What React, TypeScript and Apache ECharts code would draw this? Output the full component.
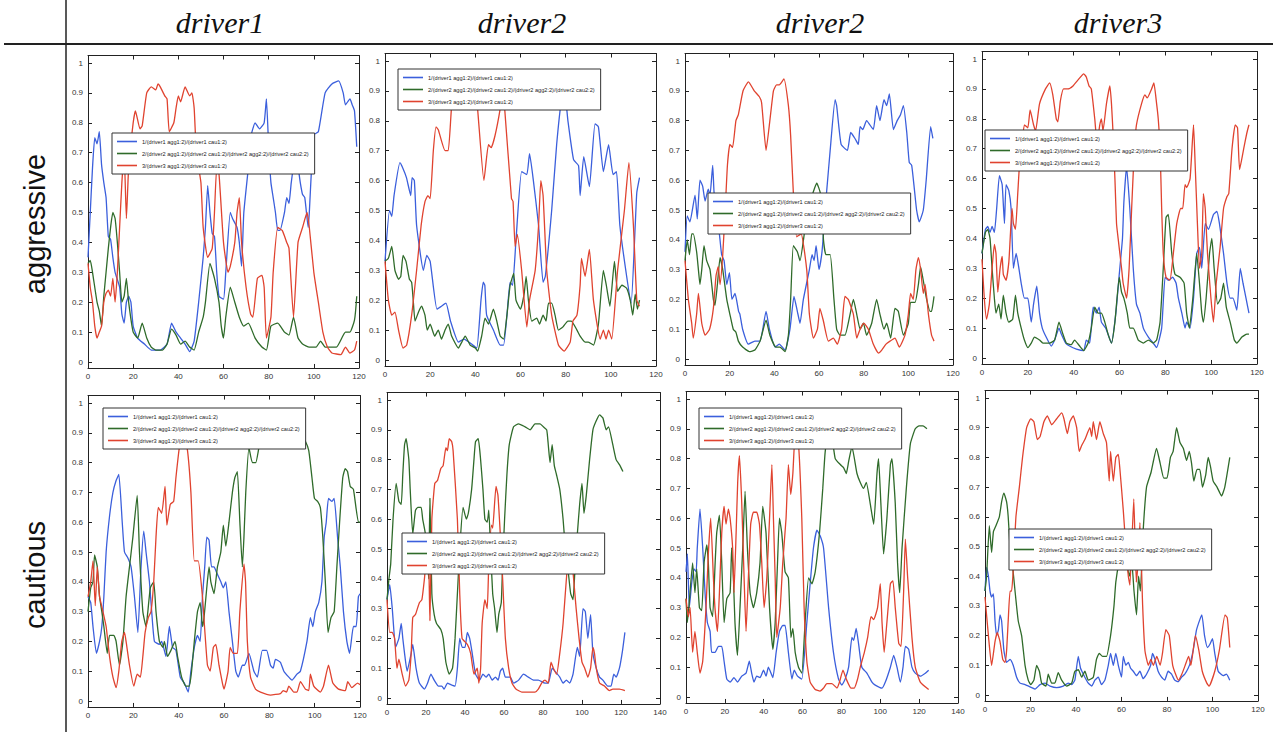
import React, { useEffect, useRef } from "react";
import * as echarts from "echarts";

// ---------- texts ----------
const NAMES = [
  "1/(driver1 agg1:2)/(driver1 cau1:2)",
  "2/(driver2 agg1:2)/(driver2 cau1:2)/(driver2 agg2:2)/(driver2 cau2:2)",
  "3/(driver3 agg1:2)/(driver3 cau1:2)",
];
const COLUMN_TITLES = ["driver1", "driver2", "driver2", "driver3"];
const ROW_TITLES = ["aggressive", "cautious"];
const Y_TICKS = [0, 0.1, 0.2, 0.3, 0.4, 0.5, 0.6, 0.7, 0.8, 0.9, 1];
const X_MAX = [120, 120, 120, 120, 120, 140, 140, 120];

// ---------- data: [x, y] ----------
// Row 1 (aggressive), panel 1: driver1
const p1Blue = [[0,0.35],[1,0.5],[2,0.65],[3,0.75],[4,0.73],[5,0.77],[6,0.66],[7,0.6],[8,0.55],[9,0.42],[10,0.41],[11,0.35],[12,0.3],[14,0.25],[15,0.16],[16,0.13],[17,0.2],[18,0.22],[19,0.2],[20,0.12],[22,0.08],[25,0.06],[28,0.04],[32,0.04],[35,0.06],[37,0.13],[39,0.1],[41,0.08],[43,0.06],[45,0.035],[47,0.07],[49,0.2],[51,0.35],[52,0.45],[53,0.59],[54,0.5],[55,0.43],[56,0.42],[57,0.3],[58,0.22],[60,0.21],[61,0.3],[63,0.5],[64,0.48],[66,0.45],[67,0.4],[68,0.32],[69,0.5],[71,0.65],[72,0.75],[74,0.8],[76,0.78],[78,0.8],[79,0.88],[80,0.72],[81,0.6],[82,0.55],[83,0.5],[84,0.44],[85,0.44],[87,0.5],[88,0.55],[89,0.53],[90,0.6],[92,0.7],[94,0.6],[95,0.56],[96,0.55],[97.5,0.45],[98,0.5],[99,0.65],[100,0.76],[102,0.77],[105,0.9],[108,0.93],[111,0.94],[113,0.9],[114,0.86],[116,0.88],[117,0.86],[118,0.84],[119,0.72]];
const p1Green = [[0,0.33],[1,0.34],[2,0.3],[4,0.2],[5,0.17],[6,0.12],[7,0.22],[8,0.3],[9,0.38],[10,0.45],[11,0.5],[12,0.48],[13,0.4],[14,0.3],[15,0.2],[16,0.22],[17,0.28],[18,0.2],[20,0.1],[22,0.08],[24,0.13],[26,0.08],[28,0.05],[30,0.04],[33,0.04],[35,0.06],[37,0.11],[39,0.09],[41,0.06],[43,0.07],[45,0.05],[47,0.04],[49,0.1],[51,0.15],[52,0.2],[54,0.33],[56,0.28],[58,0.2],[59,0.12],[60,0.08],[61,0.15],[63,0.25],[65,0.2],[67,0.15],[69,0.12],[71,0.13],[74,0.08],[77,0.05],[79,0.04],[81,0.12],[84,0.13],[87,0.1],[89,0.09],[91,0.15],[93,0.08],[95,0.06],[98,0.05],[101,0.05],[103,0.07],[105,0.05],[110,0.05],[114,0.1],[116,0.1],[118,0.14],[119,0.22]];
const p1Red = [[0,0.33],[1,0.25],[2,0.2],[3,0.12],[4,0.08],[5,0.1],[6,0.12],[7,0.2],[8,0.23],[9,0.24],[10,0.22],[11,0.28],[12,0.2],[13,0.3],[14,0.45],[15,0.6],[16,0.7],[17,0.48],[18,0.65],[20,0.8],[21,0.84],[23,0.78],[24,0.79],[26,0.9],[28,0.92],[30,0.91],[31,0.93],[32,0.92],[34,0.89],[35,0.88],[36,0.77],[38,0.8],[39,0.85],[40,0.89],[41,0.87],[43,0.92],[45,0.89],[46,0.9],[47,0.85],[48,0.7],[50,0.6],[51,0.45],[53,0.35],[55,0.38],[56,0.5],[57,0.65],[58,0.63],[60,0.4],[62,0.3],[63,0.32],[65,0.4],[66,0.5],[67,0.55],[68,0.4],[70,0.25],[72,0.16],[73,0.15],[75,0.28],[77,0.29],[78,0.25],[79,0.08],[81,0.15],[82,0.3],[84,0.45],[86,0.44],[88,0.4],[89,0.38],[91,0.15],[93,0.4],[95,0.45],[97,0.5],[98,0.45],[100,0.3],[102,0.2],[104,0.1],[106,0.05],[108,0.03],[112,0.025],[114,0.05],[116,0.03],[118,0.04],[119,0.07]];

// Row 1, panel 2: driver2
const p2Blue = [[0,0.33],[2,0.5],[3,0.48],[4,0.55],[6.6,0.66],[8,0.64],[9.5,0.61],[11.4,0.55],[12,0.61],[13,0.6],[14,0.45],[17,0.3],[18.5,0.35],[20,0.33],[23,0.17],[25,0.18],[27,0.19],[29,0.13],[32.5,0.06],[35,0.07],[38,0.055],[40.6,0.04],[42.5,0.2],[43.5,0.26],[44.2,0.25],[45,0.15],[48,0.1],[51,0.05],[52.5,0.05],[54,0.15],[55.4,0.26],[56.5,0.25],[58,0.4],[60.5,0.63],[62.8,0.62],[64,0.69],[65.7,0.6],[68,0.45],[70,0.26],[71,0.28],[73.8,0.5],[76,0.72],[78.3,0.88],[79.5,0.9],[81,0.8],[83.5,0.67],[85.7,0.65],[86.4,0.55],[88,0.68],[90.5,0.58],[93,0.79],[94.5,0.78],[96.7,0.63],[99,0.72],[101,0.62],[102.5,0.63],[104,0.45],[107,0.28],[109,0.19],[110.8,0.45],[111.5,0.56],[112.7,0.61]];
const p2Green = [[0,0.33],[1.5,0.34],[3,0.38],[4.4,0.3],[6,0.27],[7,0.28],[8,0.35],[9.3,0.33],[10.8,0.27],[11.8,0.26],[12.5,0.2],[13.3,0.13],[14.8,0.16],[16.2,0.18],[17.7,0.15],[18.7,0.1],[20,0.12],[22,0.08],[23.6,0.1],[25,0.07],[26.6,0.1],[28,0.12],[29.5,0.08],[32.5,0.04],[34,0.06],[35.5,0.08],[37.7,0.05],[40,0.04],[41,0.03],[42.8,0.08],[44.3,0.14],[45.8,0.12],[48,0.17],[49.5,0.13],[51,0.08],[52.5,0.07],[54,0.15],[55.4,0.25],[57,0.29],[58,0.2],[60,0.17],[61.6,0.22],[62.5,0.28],[63.5,0.2],[65,0.13],[67.2,0.14],[68.4,0.12],[70,0.15],[71.3,0.13],[72.4,0.19],[73.8,0.19],[75.3,0.15],[76.8,0.1],[78.7,0.11],[81,0.13],[82.5,0.13],[85,0.1],[86.4,0.08],[88.6,0.06],[90,0.06],[92.3,0.05],[94.5,0.12],[96.7,0.3],[98,0.25],[99.6,0.18],[101.6,0.33],[103,0.23],[104.9,0.25],[107,0.24],[108.6,0.2],[109.7,0.15],[110.8,0.22],[111.8,0.17],[112.7,0.2]];
const p2Red = [[0,0.33],[1.5,0.2],[3,0.15],[4.4,0.16],[6,0.1],[8,0.04],[9.6,0.05],[11.8,0.15],[14,0.3],[16,0.45],[17.7,0.53],[19,0.55],[20,0.54],[21.4,0.7],[22.6,0.78],[23.6,0.77],[26.6,0.7],[28,0.7],[29.5,0.85],[31,0.92],[34,0.94],[37,0.93],[40,0.9],[41,0.84],[43.8,0.6],[45.8,0.72],[47,0.71],[48.7,0.75],[51,0.84],[52,0.9],[53,0.84],[56,0.54],[56.7,0.53],[57.6,0.38],[58.6,0.42],[60.5,0.3],[62.8,0.11],[64,0.2],[66.5,0.3],[68,0.45],[69,0.6],[70,0.55],[71.6,0.3],[73.8,0.15],[76.8,0.05],[79.3,0.03],[82,0.06],[83.2,0.13],[85,0.15],[86.4,0.25],[87,0.34],[88.6,0.28],[90.5,0.37],[92.3,0.2],[95.3,0.07],[96.7,0.1],[97.9,0.07],[99,0.1],[100.4,0.07],[103,0.3],[106,0.5],[108,0.66],[110,0.45],[111.5,0.2],[112.7,0.18]];

// Row 1, panel 3: driver2
const p3Blue = [[0,0.36],[1,0.48],[2.2,0.46],[4.5,0.55],[5.5,0.47],[6.7,0.6],[7.9,0.58],[9,0.53],[10.4,0.57],[11.2,0.55],[12.4,0.65],[13,0.56],[14,0.5],[15.4,0.42],[16.4,0.35],[17.5,0.33],[18.7,0.25],[19.9,0.29],[21,0.2],[22.4,0.22],[24,0.16],[24.6,0.15],[25.8,0.1],[28.4,0.05],[31.3,0.06],[33.6,0.06],[36.3,0.16],[37.8,0.1],[40.3,0.04],[42.2,0.05],[44.8,0.03],[47,0.1],[48.8,0.21],[50.3,0.16],[51.5,0.12],[53,0.2],[55.7,0.3],[56.9,0.35],[57.8,0.33],[58.7,0.38],[60,0.3],[61.2,0.35],[62,0.42],[62.7,0.5],[63.4,0.56],[65,0.7],[67.2,0.87],[67.9,0.85],[69.9,0.72],[72.7,0.7],[74.2,0.76],[76.1,0.74],[77.6,0.72],[78.4,0.78],[79.6,0.77],[81.3,0.8],[84.3,0.77],[85.8,0.85],[87.3,0.8],[89.1,0.87],[90.3,0.85],[91.5,0.89],[93.3,0.77],[95,0.8],[96.5,0.82],[97.8,0.85],[99.3,0.76],[100.4,0.66],[101.5,0.65],[102.7,0.57],[103.7,0.5],[104.9,0.46],[106.7,0.5],[108,0.6],[110,0.78],[111,0.74]];
const p3Green = [[0,0.33],[1,0.4],[2,0.35],[3,0.42],[3.7,0.42],[5.2,0.36],[6,0.3],[6.7,0.25],[7.5,0.3],[8.5,0.38],[9.7,0.33],[11.2,0.3],[12.7,0.2],[13.4,0.18],[14.5,0.25],[15.7,0.34],[16.9,0.3],[18.7,0.2],[20.1,0.15],[21.6,0.1],[22.8,0.09],[23.9,0.06],[25.8,0.04],[28.8,0.025],[31.3,0.03],[33.6,0.06],[36.3,0.13],[38,0.08],[40.7,0.04],[42.5,0.04],[44.8,0.025],[46.3,0.08],[47.3,0.2],[48.5,0.38],[50.3,0.36],[51.5,0.33],[54,0.45],[57,0.55],[59,0.59],[60.5,0.56],[61.5,0.5],[62,0.4],[63.1,0.35],[65,0.35],[66.7,0.2],[67.9,0.1],[69.4,0.08],[71.6,0.08],[73.9,0.15],[75.4,0.2],[76.9,0.15],[78.4,0.1],[79.9,0.12],[81.3,0.08],[83.6,0.12],[85.8,0.2],[87.3,0.15],[89.1,0.1],[90.3,0.12],[92.1,0.07],[94,0.17],[95.5,0.16],[97.8,0.08],[100,0.12],[101,0.19],[103,0.19],[104.5,0.25],[105.5,0.31],[107,0.25],[108.2,0.2],[109.7,0.16],[110.4,0.16],[111.5,0.21]];
const p3Red = [[0,0.33],[1.5,0.2],[3,0.12],[3.7,0.07],[5.2,0.15],[6,0.22],[7.5,0.12],[9,0.08],[11,0.1],[12.7,0.17],[13.9,0.28],[14.9,0.31],[15.7,0.25],[16.9,0.35],[18,0.5],[19,0.65],[20.1,0.72],[21.3,0.71],[22.8,0.8],[23.9,0.82],[26,0.9],[28.4,0.93],[31,0.9],[33.3,0.88],[34.3,0.86],[36.3,0.7],[38,0.8],[39.6,0.9],[41,0.92],[42.2,0.92],[44.3,0.94],[46.3,0.85],[47.3,0.75],[48.5,0.56],[50,0.41],[52,0.42],[54.5,0.3],[55.7,0.15],[57.5,0.07],[59.3,0.1],[60.4,0.17],[61.9,0.13],[64.2,0.06],[66.4,0.07],[68.2,0.05],[70.1,0.1],[71.6,0.21],[73.1,0.2],[75.4,0.15],[76.9,0.07],[78.4,0.1],[80.1,0.12],[82.1,0.1],[84.3,0.05],[86.6,0.02],[88.1,0.03],[90,0.05],[91.8,0.06],[94,0.07],[96,0.04],[98.5,0.08],[100,0.15],[101,0.22],[102.2,0.2],[103.4,0.3],[104.5,0.34],[105.5,0.3],[106.7,0.22],[107.5,0.25],[109,0.15],[110.4,0.08],[111.5,0.06]];

// Row 1, panel 4: driver3
const p4Blue = [[0,0.35],[1.5,0.43],[2.5,0.44],[3.5,0.42],[4.4,0.44],[5.4,0.42],[6.4,0.5],[7.6,0.61],[8.8,0.58],[9.8,0.45],[10.5,0.58],[11.7,0.56],[12.7,0.5],[13.7,0.3],[14.9,0.35],[16.1,0.3],[17.1,0.25],[18.5,0.2],[20,0.2],[21.5,0.12],[22.5,0.18],[23.9,0.24],[25.1,0.15],[26.3,0.1],[28,0.07],[30.2,0.04],[31.7,0.06],[33.6,0.1],[34.6,0.08],[36.5,0.05],[38.2,0.04],[41.2,0.03],[44.4,0.025],[45.5,0.06],[47,0.05],[48.5,0.17],[49.9,0.15],[51.1,0.17],[52.1,0.12],[54,0.1],[56.5,0.05],[58.4,0.15],[59.9,0.28],[61.3,0.4],[61.9,0.52],[63.1,0.64],[64.5,0.5],[66,0.3],[67.4,0.18],[68.9,0.15],[70.4,0.1],[72.6,0.07],[74.7,0.05],[76.2,0.035],[78.4,0.1],[79.9,0.27],[81.3,0.26],[83.2,0.27],[84.7,0.25],[85.7,0.2],[87.2,0.15],[88.6,0.1],[89.3,0.12],[90.8,0.1],[92.3,0.2],[93.7,0.35],[94.9,0.37],[95.9,0.3],[97.4,0.45],[98.8,0.43],[101,0.48],[102.5,0.49],[103.6,0.45],[105.4,0.35],[106.9,0.25],[108.3,0.2],[109.5,0.2],[111.2,0.16],[112.7,0.3],[113.9,0.25],[115.2,0.2],[116.5,0.15]];
const p4Green = [[0,0.35],[1.5,0.42],[2.5,0.43],[3.5,0.4],[4.4,0.3],[5.4,0.2],[6.1,0.15],[7.3,0.18],[8.3,0.13],[9.3,0.21],[10.5,0.15],[11.7,0.12],[13.4,0.13],[14.6,0.21],[15.6,0.15],[17.1,0.1],[18.5,0.06],[20,0.035],[21.5,0.05],[22.9,0.07],[25.1,0.06],[26.6,0.05],[29.5,0.05],[31.7,0.06],[33.6,0.12],[35.3,0.08],[36.8,0.05],[39,0.045],[40.4,0.06],[42.6,0.04],[44.4,0.025],[46.3,0.05],[47.7,0.1],[49.2,0.17],[50.7,0.15],[52.1,0.15],[53.6,0.12],[55,0.08],[56.5,0.05],[58,0.12],[59.9,0.27],[60.9,0.22],[61.9,0.2],[63.4,0.15],[64.5,0.1],[66,0.1],[68.2,0.06],[70.4,0.05],[72.6,0.06],[74.7,0.05],[76.2,0.06],[77.7,0.12],[79.1,0.3],[80.3,0.47],[81.3,0.48],[82.8,0.35],[84.2,0.28],[86.4,0.27],[88.2,0.25],[89.3,0.15],[90.5,0.1],[92,0.2],[93.7,0.35],[94.9,0.25],[95.9,0.15],[96.6,0.12],[97.8,0.2],[99.3,0.35],[100.3,0.4],[101.3,0.3],[102.8,0.18],[104.2,0.2],[105.4,0.25],[106.6,0.17],[108.3,0.12],[110.1,0.06],[111.2,0.05],[113.4,0.07],[115.6,0.08],[116.5,0.08]];
const p4Red = [[0,0.33],[1,0.2],[2,0.13],[3.2,0.18],[4.4,0.3],[5.4,0.38],[6.1,0.35],[6.9,0.22],[7.9,0.3],[8.8,0.34],[9.3,0.28],[10.5,0.26],[11.7,0.32],[12.3,0.4],[13.1,0.5],[13.7,0.45],[14.6,0.43],[15.6,0.55],[16.4,0.65],[17.5,0.72],[18.5,0.78],[20,0.77],[21,0.83],[22.5,0.78],[23.4,0.76],[25.1,0.85],[27.7,0.9],[29.5,0.92],[30.9,0.88],[32.4,0.8],[33.1,0.79],[34.2,0.86],[35.6,0.9],[37.5,0.9],[39.7,0.91],[41.9,0.93],[44.4,0.95],[45.5,0.94],[46.7,0.91],[47.7,0.9],[49.2,0.8],[50.2,0.72],[51.4,0.78],[52.1,0.8],[52.8,0.76],[54.3,0.85],[55.8,0.91],[56.5,0.85],[57.2,0.75],[58,0.6],[58.7,0.45],[59.4,0.4],[60.9,0.3],[61.6,0.25],[63.1,0.2],[64.2,0.3],[65.3,0.5],[66,0.62],[66.7,0.72],[67.4,0.78],[69.6,0.85],[71.1,0.88],[72.1,0.87],[74,0.9],[75,0.92],[76.2,0.85],[76.9,0.8],[77.7,0.7],[78.4,0.5],[79.1,0.35],[80.3,0.27],[82,0.26],[83.5,0.35],[85,0.45],[86.7,0.5],[87.6,0.5],[88.6,0.58],[89.3,0.57],[90.8,0.6],[92.3,0.78],[93,0.65],[94,0.45],[94.9,0.3],[95.9,0.35],[96.6,0.55],[97.4,0.5],[98.4,0.35],[99.9,0.2],[101,0.12],[102.2,0.25],[103.9,0.37],[105.4,0.5],[106.9,0.54],[107.7,0.55],[109.1,0.7],[110.5,0.78],[111.5,0.77],[112.4,0.63],[114.2,0.7],[115.5,0.75],[116.5,0.78]];

// Row 2 (cautious), panel 5: driver1
const p5Blue = [[0,0.35],[1.2,0.33],[2.2,0.25],[3.7,0.16],[5.1,0.2],[6.1,0.25],[7,0.35],[8,0.5],[9.5,0.62],[11,0.7],[12.4,0.74],[13.6,0.76],[15.1,0.6],[16.1,0.5],[17.6,0.48],[19,0.45],[20.5,0.35],[22,0.23],[23.4,0.45],[24.6,0.57],[25.6,0.5],[27.1,0.4],[28.1,0.3],[29.3,0.2],[31.5,0.19],[32.5,0.2],[34.4,0.15],[35.9,0.25],[37.3,0.18],[38.8,0.17],[40.7,0.08],[42.5,0.06],[44.2,0.03],[45.4,0.1],[46.9,0.18],[48.3,0.22],[49.5,0.2],[50.5,0.35],[51.5,0.45],[52.4,0.55],[53.4,0.54],[54.5,0.45],[55.6,0.45],[56.8,0.43],[58.6,0.4],[59.7,0.38],[60.8,0.4],[62.2,0.3],[63.7,0.2],[65.2,0.1],[66.3,0.08],[68.1,0.12],[69.1,0.12],[71,0.16],[73.2,0.1],[74.7,0.08],[76.9,0.17],[78.8,0.17],[80.5,0.12],[81.7,0.11],[82.7,0.14],[84.9,0.13],[86.4,0.1],[88.6,0.08],[90,0.07],[92.2,0.09],[93.7,0.1],[96.6,0.2],[98.1,0.28],[99.2,0.25],[100.3,0.3],[101.8,0.33],[103.2,0.4],[104.2,0.55],[105.1,0.6],[106.1,0.68],[107.6,0.67],[108.6,0.68],[110.1,0.55],[111.3,0.45],[112.7,0.3],[114.2,0.2],[115.4,0.16],[117.1,0.25],[118.3,0.25],[119.3,0.35],[120,0.36]];
const p5Green = [[0,0.3],[1.2,0.38],[2.2,0.4],[2.9,0.49],[4.1,0.45],[5.1,0.35],[6.1,0.3],[7,0.25],[8.5,0.16],[9.5,0.22],[11.4,0.22],[12.4,0.2],[13.9,0.12],[15.4,0.2],[16.8,0.35],[18.3,0.45],[19.8,0.55],[21.7,0.69],[22.7,0.5],[24.2,0.3],[25.6,0.25],[26.4,0.3],[27.5,0.38],[29,0.4],[30,0.3],[31.5,0.2],[33,0.18],[33.7,0.2],[35.1,0.15],[36.6,0.17],[38.4,0.2],[39.5,0.15],[41.3,0.08],[43.2,0.05],[44.7,0.05],[45.7,0.1],[46.9,0.2],[48.3,0.3],[49.5,0.33],[50.5,0.25],[51.2,0.28],[52.4,0.38],[53.4,0.45],[54.2,0.4],[55.6,0.36],[57.1,0.45],[58.6,0.5],[59.7,0.59],[60.8,0.52],[62.2,0.6],[63.7,0.7],[64.8,0.75],[65.9,0.77],[67,0.6],[68.1,0.45],[68.8,0.55],[69.6,0.7],[71,0.85],[72.5,0.8],[74,0.8],[75.4,0.85],[77,0.9],[80,0.92],[85,0.91],[90,0.9],[94,0.89],[96,0.87],[97.4,0.84],[98.8,0.75],[99.9,0.68],[101.3,0.67],[102.5,0.65],[103.6,0.55],[104.7,0.4],[105.9,0.23],[107.2,0.28],[108.6,0.3],[109.8,0.45],[111,0.6],[112.4,0.75],[113.5,0.78],[114.5,0.77],[115.7,0.72],[117.1,0.71],[119.3,0.6],[120,0.6]];
const p5Red = [[0,0.35],[1.2,0.4],[2.2,0.47],[3.2,0.32],[4.1,0.45],[5.1,0.35],[6.6,0.3],[8,0.25],[9.5,0.15],[11,0.08],[12.4,0.045],[13.6,0.1],[14.9,0.2],[16.1,0.23],[16.8,0.2],[18.3,0.12],[20.2,0.05],[21.7,0.09],[23.1,0.08],[24.2,0.15],[25.2,0.23],[26.6,0.28],[27.8,0.3],[29,0.4],[30,0.55],[31,0.65],[32.5,0.63],[34,0.72],[34.8,0.59],[36.3,0.66],[37.8,0.67],[38.8,0.75],[40.3,0.85],[42,0.9],[43.9,0.84],[45.4,0.7],[46.9,0.47],[48.6,0.47],[50.5,0.35],[51.5,0.24],[52.7,0.12],[53.9,0.1],[55.3,0.18],[56.4,0.19],[57.8,0.12],[59.3,0.06],[60,0.04],[61.8,0.1],[62.7,0.18],[64.1,0.16],[65.9,0.16],[67,0.3],[68.8,0.46],[69.5,0.4],[70.3,0.2],[71.7,0.08],[73.9,0.04],[76.1,0.03],[80.5,0.02],[84.9,0.025],[86.1,0.035],[87.6,0.03],[88.6,0.05],[90.8,0.03],[92.2,0.03],[93.7,0.065],[95.9,0.04],[97.4,0.035],[98.1,0.09],[99.6,0.05],[102.5,0.03],[103.9,0.05],[106.1,0.12],[108,0.06],[110.5,0.04],[113.5,0.035],[114.6,0.065],[116.4,0.045],[118.9,0.06],[120,0.055]];

// Row 2, panel 6: driver2
const p6Blue = [[0,0.33],[1.4,0.38],[2.7,0.3],[4.4,0.17],[6.1,0.2],[7.3,0.25],[8.1,0.2],[9,0.15],[10.3,0.09],[12.4,0.15],[13.2,0.18],[14.9,0.1],[16.6,0.05],[19.2,0.03],[20.8,0.05],[22.5,0.08],[24.2,0.06],[26.4,0.04],[28.1,0.04],[29.3,0.03],[31,0.05],[32.7,0.045],[34.9,0.04],[36.1,0.1],[37.3,0.2],[38.6,0.17],[40,0.17],[41.2,0.22],[42.4,0.2],[43.7,0.15],[45.4,0.08],[47.5,0.06],[49.2,0.08],[50.8,0.07],[52.2,0.08],[53.9,0.06],[55.6,0.07],[57,0.06],[58.1,0.09],[59.3,0.1],[60.7,0.07],[63.2,0.07],[64.9,0.05],[67.5,0.06],[70,0.08],[72.5,0.07],[75.1,0.06],[77.6,0.06],[81,0.05],[82.7,0.05],[84.7,0.1],[86.1,0.09],[88.6,0.07],[90.3,0.05],[92,0.06],[93.7,0.05],[95.4,0.08],[97.6,0.17],[98.8,0.14],[100.5,0.3],[101.7,0.29],[103,0.2],[104.4,0.28],[105.6,0.15],[107.3,0.1],[109,0.07],[110.7,0.06],[113.2,0.04],[114.9,0.04],[116.3,0.08],[117.5,0.07],[119.2,0.1],[120.8,0.16],[122,0.22]];
const p6Green = [[0,0.33],[1,0.4],[1.9,0.45],[3.1,0.6],[4.7,0.72],[6.1,0.66],[7.3,0.65],[8.1,0.75],[9,0.85],[9.8,0.87],[11.2,0.8],[11.9,0.7],[13.2,0.55],[14.6,0.63],[15.8,0.64],[17.5,0.64],[18.3,0.6],[19.7,0.55],[20.8,0.45],[21.4,0.4],[22,0.67],[23,0.35],[24.2,0.28],[25.4,0.25],[27.6,0.23],[28.8,0.2],[30.2,0.12],[31.9,0.08],[33.6,0.1],[34.9,0.2],[36.1,0.35],[37.3,0.5],[39,0.64],[40.7,0.6],[41.7,0.62],[43.4,0.7],[44.6,0.8],[45.4,0.86],[46.8,0.87],[48,0.8],[49.2,0.7],[50.2,0.6],[51.4,0.59],[52.2,0.63],[53.1,0.5],[54.2,0.35],[55.2,0.3],[56.4,0.22],[57.3,0.28],[58.6,0.32],[59.3,0.45],[60.3,0.6],[61.5,0.75],[62.7,0.85],[64.9,0.91],[67.5,0.92],[70.8,0.91],[73.4,0.9],[75.9,0.92],[78.5,0.92],[80.2,0.91],[81.9,0.9],[82.7,0.85],[83.6,0.79],[84.7,0.85],[85.8,0.78],[86.9,0.75],[88.6,0.7],[90.3,0.6],[91.5,0.5],[93,0.42],[94.2,0.35],[95.4,0.33],[96.3,0.42],[97.6,0.55],[98.8,0.65],[100,0.72],[101,0.62],[102.2,0.68],[103.9,0.8],[105.6,0.9],[107.3,0.93],[109,0.95],[110.7,0.94],[112.4,0.9],[113.6,0.91],[115.8,0.85],[117.5,0.8],[119.5,0.78],[121,0.76]];
const p6Red = [[0,0.33],[1.4,0.22],[2.7,0.22],[3.9,0.2],[5.1,0.1],[6.1,0.13],[7.8,0.08],[9.5,0.04],[11.2,0.06],[12.4,0.15],[13.2,0.27],[14.6,0.28],[16.6,0.32],[17.9,0.33],[19.2,0.4],[20.4,0.48],[21.4,0.45],[22,0.26],[23,0.6],[24.5,0.72],[25.9,0.73],[27.6,0.77],[28.8,0.78],[30.2,0.84],[31,0.83],[31.9,0.87],[33.2,0.86],[33.9,0.83],[36.1,0.6],[37.3,0.35],[38.5,0.2],[41.2,0.18],[42.9,0.15],[44.6,0.08],[46.3,0.1],[47.1,0.05],[48,0.1],[48.8,0.25],[50.2,0.33],[51.4,0.3],[52.2,0.45],[53.6,0.58],[54.2,0.57],[55.9,0.71],[56.9,0.68],[58.1,0.55],[59.3,0.4],[60.7,0.2],[62.4,0.1],[64.1,0.05],[66.1,0.03],[69.2,0.02],[75.9,0.02],[77.6,0.03],[79.3,0.05],[81,0.06],[82.7,0.05],[84.1,0.12],[85.3,0.1],[87,0.08],[88.6,0.15],[90.3,0.25],[92,0.4],[93.5,0.5],[95,0.45],[97,0.3],[98.5,0.2],[100,0.12],[101.4,0.1],[103,0.07],[104.4,0.1],[105.6,0.17],[106.4,0.15],[107.3,0.1],[109,0.05],[111.5,0.04],[114,0.025],[115.8,0.03],[119.2,0.03],[122,0.025]];

// Row 2, panel 7: driver2
const p7Blue = [[0,0.42],[0.7,0.48],[1.7,0.3],[2.9,0.38],[4.1,0.43],[5.2,0.42],[5.8,0.5],[7.2,0.63],[8.6,0.5],[9.8,0.35],[11,0.25],[12.4,0.22],[13.2,0.15],[15,0.15],[16.7,0.17],[18.4,0.17],[19.6,0.12],[21,0.06],[22.7,0.05],[24.7,0.065],[26.5,0.05],[28.7,0.07],[30.9,0.08],[32.6,0.12],[33.8,0.08],[35,0.05],[36.4,0.07],[38.1,0.065],[39.9,0.09],[41.2,0.07],[42.4,0.1],[44.7,0.065],[46.4,0.15],[48.1,0.22],[49.8,0.24],[51,0.24],[52.7,0.15],[54.5,0.06],[55.7,0.09],[57.4,0.07],[59.6,0.06],[62.2,0.25],[63.9,0.38],[65.6,0.5],[67.4,0.56],[69.1,0.54],[70.8,0.5],[73.4,0.3],[75.9,0.15],[78.5,0.06],[80.2,0.04],[81.9,0.06],[83.7,0.1],[85.4,0.2],[86.3,0.19],[87.6,0.23],[88.8,0.18],[90.5,0.1],[93.1,0.08],[95.7,0.05],[97.4,0.04],[100.9,0.03],[102.6,0.05],[105.2,0.1],[106.9,0.14],[108.6,0.1],[110.3,0.05],[111.7,0.1],[112.9,0.17],[114.6,0.16],[116.3,0.1],[118,0.08],[120.6,0.07],[123.2,0.08],[124.9,0.09]];
const p7Green = [[0,0.33],[0.7,0.25],[1.7,0.32],[3.4,0.45],[4.6,0.35],[5.5,0.43],[6.9,0.3],[8.1,0.29],[9.3,0.45],[10.7,0.51],[11.5,0.45],[12.4,0.3],[13.7,0.27],[15,0.45],[15.8,0.55],[17.2,0.61],[18.4,0.45],[19.6,0.25],[21,0.33],[22.7,0.35],[23.5,0.5],[24.4,0.4],[25.2,0.25],[26.5,0.14],[27.8,0.3],[29.2,0.5],[30.4,0.69],[31.6,0.5],[33,0.35],[34.7,0.3],[36.4,0.35],[38.1,0.45],[39.5,0.64],[41.2,0.55],[43,0.3],[44.7,0.16],[45.9,0.25],[47.1,0.45],[48.1,0.6],[49.3,0.55],[51,0.42],[52.7,0.4],[54,0.2],[55,0.23],[56.2,0.15],[57.9,0.1],[59.6,0.08],[61.3,0.25],[63.1,0.4],[64.8,0.38],[66.5,0.42],[68.7,0.55],[70.4,0.7],[71.6,0.82],[73.4,0.9],[75,0.88],[76.8,0.8],[79.4,0.78],[81.1,0.77],[82.5,0.75],[83.7,0.79],[85.4,0.84],[88,0.75],[89.7,0.72],[91.4,0.7],[92.8,0.72],[94.8,0.65],[96.6,0.58],[98.3,0.75],[99.1,0.8],[100.3,0.65],[101.7,0.48],[103.4,0.6],[105.2,0.78],[106,0.8],[107.7,0.65],[108.9,0.45],[110,0.35],[111.2,0.5],[113.4,0.7],[115.5,0.85],[118,0.9],[120,0.91],[122,0.91],[124,0.9]];
const p7Red = [[0,0.33],[1.2,0.27],[2.1,0.3],[3.4,0.15],[4.6,0.22],[5.8,0.15],[7.2,0.08],[8.6,0.12],[10.3,0.3],[11.5,0.48],[12.7,0.6],[14.1,0.4],[14.9,0.3],[16.2,0.22],[17.2,0.35],[18.4,0.55],[19.6,0.64],[20.6,0.58],[21.8,0.63],[22.7,0.6],[24,0.5],[24.7,0.35],[25.8,0.55],[26.6,0.72],[27.5,0.81],[28.7,0.65],[29.9,0.4],[30.9,0.22],[31.8,0.35],[33.3,0.58],[34.7,0.62],[36.4,0.62],[37.8,0.58],[39,0.45],[40.2,0.3],[41.6,0.4],[43,0.6],[44.2,0.78],[45,0.6],[45.9,0.4],[46.7,0.2],[48.5,0.3],[49.8,0.45],[51.5,0.6],[52.7,0.78],[53.9,0.68],[55,0.75],[56.2,0.88],[57.9,0.85],[59.6,0.6],[60.8,0.3],[62.2,0.12],[63.9,0.05],[66.5,0.025],[69,0.02],[70.8,0.03],[72.5,0.045],[75.1,0.045],[77.7,0.03],[79,0.05],[80.8,0.09],[82.5,0.06],[84.9,0.03],[86.6,0.03],[88.3,0.06],[89.7,0.1],[91.8,0.15],[93.5,0.2],[95.2,0.27],[96.6,0.26],[98.6,0.3],[100,0.38],[100.9,0.25],[102,0.15],[103.4,0.25],[105.2,0.38],[106.5,0.39],[107.7,0.3],[109.5,0.18],[110.7,0.17],[112,0.35],[112.9,0.53],[114.1,0.4],[116.3,0.2],[118,0.1],[120.6,0.05],[124.9,0.025]];

// Row 2, panel 8: driver3
const p8Blue = [[0,0.35],[0.7,0.43],[1.5,0.4],[2.2,0.35],[2.9,0.33],[3.7,0.34],[4.4,0.25],[5.1,0.2],[5.9,0.22],[6.6,0.27],[7.3,0.25],[8.3,0.15],[9.5,0.11],[11,0.12],[12.4,0.1],[13.9,0.06],[15.4,0.04],[17.6,0.035],[20.5,0.025],[22,0.02],[24.2,0.035],[26.4,0.04],[28.6,0.03],[31.5,0.025],[34.4,0.03],[36.6,0.04],[38.1,0.035],[39.5,0.05],[41,0.13],[42,0.09],[43.9,0.06],[45.4,0.04],[46.9,0.03],[48.3,0.05],[49.8,0.06],[51.2,0.035],[52.7,0.05],[54.2,0.1],[55.2,0.14],[56.4,0.1],[57.5,0.14],[58.6,0.1],[60,0.06],[60.8,0.13],[61.9,0.1],[63,0.11],[64,0.09],[65.2,0.08],[66.6,0.065],[68.1,0.08],[69.5,0.055],[71,0.07],[72.8,0.1],[73.6,0.14],[74.7,0.12],[76.1,0.08],[77.6,0.06],[79,0.05],[80.5,0.08],[82,0.07],[83.4,0.05],[84.9,0.045],[86.4,0.06],[87.8,0.07],[89.3,0.09],[90.3,0.11],[91.5,0.15],[93,0.22],[95.3,0.27],[96.5,0.2],[97.8,0.16],[98.8,0.17],[100,0.19],[101,0.14],[102.5,0.08],[104.7,0.065],[106.1,0.07],[107.6,0.05]];
const p8Green = [[0,0.35],[0.7,0.4],[1.9,0.57],[2.9,0.48],[3.7,0.55],[4.8,0.57],[6.3,0.6],[7.3,0.65],[8.3,0.68],[9.5,0.65],[10.2,0.6],[11,0.5],[12.3,0.42],[13.2,0.35],[14.6,0.25],[16.1,0.2],[17.6,0.1],[19,0.05],[20.1,0.035],[21.5,0.05],[22.7,0.1],[23.9,0.08],[24.9,0.04],[26.8,0.03],[27.8,0.07],[29.3,0.04],[30.7,0.04],[32.2,0.075],[33.7,0.05],[35.9,0.03],[38.1,0.04],[39.5,0.08],[41,0.085],[42.5,0.06],[43.9,0.08],[45.4,0.05],[47.6,0.06],[49,0.12],[50.2,0.14],[51.7,0.13],[53.4,0.13],[55.2,0.2],[56.7,0.3],[57.5,0.38],[59,0.45],[60.8,0.5],[62,0.45],[63.5,0.4],[64.5,0.45],[65.5,0.35],[66.6,0.27],[67.5,0.4],[68.3,0.35],[69.5,0.55],[71,0.7],[73,0.75],[75.4,0.83],[77,0.78],[78.6,0.73],[80,0.73],[81.5,0.8],[82.7,0.82],[84.2,0.9],[85.7,0.85],[87.2,0.83],[88.6,0.79],[89.8,0.82],[90.8,0.78],[91.8,0.72],[93.2,0.76],[94.4,0.76],[95.6,0.7],[97,0.74],[98.1,0.8],[99.1,0.77],[100.3,0.72],[102,0.7],[104,0.67],[105.4,0.7],[107.6,0.8]];
const p8Red = [[0,0.33],[1.5,0.2],[2.9,0.1],[4.4,0.18],[5.4,0.21],[6.6,0.18],[7.8,0.12],[8.8,0.11],[9.5,0.15],[10.2,0.25],[11,0.35],[11.7,0.35],[12.4,0.42],[13.6,0.6],[15.1,0.7],[16.5,0.8],[18.3,0.9],[20.1,0.93],[21.5,0.92],[23,0.86],[24.2,0.87],[25.9,0.92],[27.4,0.94],[29.3,0.91],[31.5,0.93],[33.7,0.95],[34.7,0.93],[36.2,0.88],[37.3,0.92],[38.8,0.94],[40.3,0.9],[41.4,0.82],[42.5,0.84],[43.9,0.86],[46.1,0.9],[46.9,0.87],[47.6,0.92],[49,0.86],[50.5,0.92],[52,0.88],[53.4,0.85],[54.6,0.72],[55.2,0.82],[56.4,0.72],[57.5,0.8],[58.6,0.81],[59.3,0.76],[60.8,0.62],[61.9,0.5],[63,0.4],[63.7,0.37],[65.4,0.66],[66.5,0.38],[67.3,0.45],[68.1,0.58],[69.3,0.3],[70.3,0.15],[71.8,0.1],[72.9,0.12],[74,0.1],[75.5,0.13],[77,0.1],[78,0.14],[79.5,0.22],[81,0.2],[82.5,0.1],[85,0.05],[86.5,0.07],[88,0.1],[89.5,0.13],[90.5,0.1],[92.5,0.2],[94,0.15],[95.5,0.08],[97.5,0.04],[98.5,0.03],[101,0.08],[103,0.15],[105.5,0.27],[106.5,0.26],[107.6,0.16]];

const SERIES_DATA = [
  [p1Blue, p1Green, p1Red],
  [p2Blue, p2Green, p2Red],
  [p3Blue, p3Green, p3Red],
  [p4Blue, p4Green, p4Red],
  [p5Blue, p5Green, p5Red],
  [p6Blue, p6Green, p6Red],
  [p7Blue, p7Green, p7Red],
  [p8Blue, p8Green, p8Red],
];

// ---------- layout (pixels) ----------
// [x of 0, x of xMax, y of 0, y of 1]
const BOXES = [
  [88, 359, 362, 63],
  [385, 656, 360, 61],
  [685, 953, 359, 61],
  [982, 1257, 358, 59],
  [88, 360, 701, 403],
  [387, 660, 698, 400],
  [686, 958, 697, 399],
  [985, 1258, 695, 398],
];
const LEGEND_POS = [
  [112, 133], [398, 69], [708, 193], [985, 130],
  [103, 408], [402, 533], [699, 408], [1009, 529],
];
const COLORS = ["#3b5fdc", "#2f6b2a", "#e0432f"];
const Y_MIN = -0.02;
const Y_MAX = 1.025;

function buildOption() {
  const grid: any[] = [];
  const xAxis: any[] = [];
  const yAxis: any[] = [];
  const series: any[] = [];
  const legend: any[] = [];
  const axisColor = "#222";
  const labelStyle = { fontSize: 8, color: "#333", fontFamily: "Liberation Sans" };

  BOXES.forEach((b, i) => {
    const h = b[2] - b[3];
    grid.push({
      left: b[0],
      width: b[1] - b[0],
      top: b[3] - (Y_MAX - 1) * h,
      height: h * (Y_MAX - Y_MIN),
      containLabel: false,
    });
    const xBase = {
      gridIndex: i, type: "value", min: 0, max: X_MAX[i], interval: 20,
      axisLine: { onZero: false, lineStyle: { color: axisColor, width: 1 } },
      axisTick: { inside: true, length: 4, lineStyle: { color: axisColor } },
      splitLine: { show: false },
    };
    xAxis.push({ ...xBase, position: "bottom", axisLabel: { ...labelStyle, margin: 5 } });
    xAxis.push({ ...xBase, position: "top", axisLabel: { show: false } });
    const yBase = {
      gridIndex: i, type: "value", min: Y_MIN, max: Y_MAX,
      axisLine: { onZero: false, lineStyle: { color: axisColor, width: 1 } },
      axisTick: { inside: true, length: 4, customValues: Y_TICKS, lineStyle: { color: axisColor } },
      splitLine: { show: false },
    };
    yAxis.push({
      ...yBase, position: "left",
      axisLabel: { ...labelStyle, margin: 5, customValues: Y_TICKS, formatter: (v: number) => String(Math.round(v * 10) / 10) },
    });
    yAxis.push({ ...yBase, position: "right", axisLabel: { show: false } });

    SERIES_DATA[i].forEach((d, k) => {
      series.push({
        type: "line",
        name: NAMES[k],
        xAxisIndex: 2 * i,
        yAxisIndex: 2 * i,
        data: d,
        symbol: "none",
        showSymbol: false,
        smooth: 0.15,
        lineStyle: { color: COLORS[k], width: 1.3 },
        itemStyle: { color: COLORS[k] },
        z: 2 + k,
      });
    });

    legend.push({
      left: LEGEND_POS[i][0],
      top: LEGEND_POS[i][1],
      orient: "vertical",
      data: NAMES,
      icon: "rect",
      itemWidth: 20,
      itemHeight: 1.6,
      itemGap: 3,
      padding: [4, 6, 4, 5],
      backgroundColor: "#ffffff",
      borderColor: "#333",
      borderWidth: 1,
      selectedMode: false,
      z: 10,
      textStyle: { fontSize: 5.6, lineHeight: 9, color: "#222", fontFamily: "Liberation Sans" },
    });
  });

  const headerCenters = [220, 522, 820, 1118];
  const graphic: any[] = [
    { type: "line", shape: { x1: 66, y1: 0, x2: 66, y2: 732 }, style: { stroke: "#222", lineWidth: 1.5 } },
    { type: "line", shape: { x1: 4, y1: 44, x2: 1273, y2: 44 }, style: { stroke: "#222", lineWidth: 2 } },
    ...COLUMN_TITLES.map((t, i) => ({
      type: "text", x: headerCenters[i], y: 22,
      style: {
        text: t, fill: "#111", font: "italic 30px 'Liberation Serif', 'DejaVu Serif', serif",
        textAlign: "center", textVerticalAlign: "middle",
      },
    })),
    ...ROW_TITLES.map((t, i) => ({
      type: "text", x: 35, y: i === 0 ? 224 : 575, rotation: Math.PI / 2,
      style: {
        text: t, fill: "#111", font: "29px 'Liberation Sans', 'Noto Sans', sans-serif",
        textAlign: "center", textVerticalAlign: "middle",
      },
    })),
  ];

  return {
    animation: false,
    backgroundColor: "#ffffff",
    grid, xAxis, yAxis, series, legend, graphic,
  };
}

export default function App() {
  const ref = useRef<HTMLDivElement>(null);
  useEffect(() => {
    if (!ref.current) return;
    const chart = echarts.init(ref.current, null, { renderer: "svg" });
    chart.setOption(buildOption() as any);
    return () => chart.dispose();
  }, []);
  return (
    <div
      ref={ref}
      style={{ position: "absolute", left: 0, top: 0, width: 1273, height: 732, background: "#fff" }}
    />
  );
}
